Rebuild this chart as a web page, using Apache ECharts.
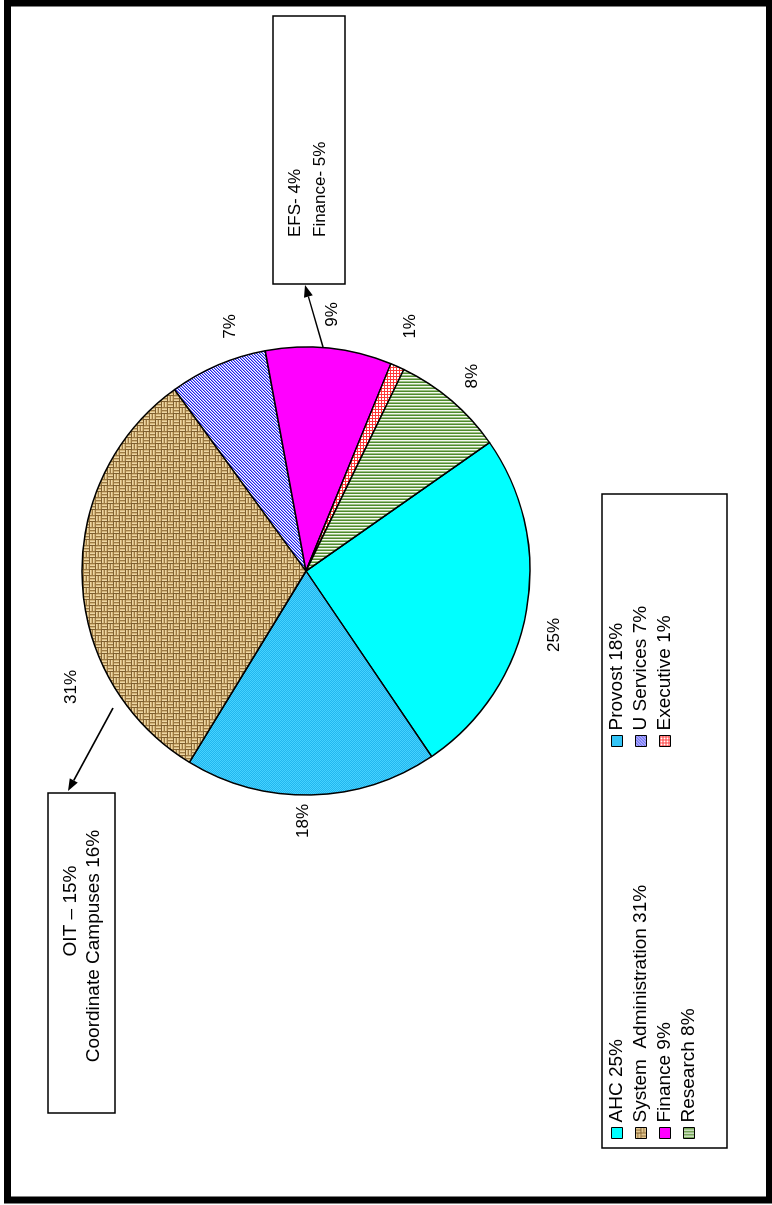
<!DOCTYPE html>
<html>
<head>
<meta charset="utf-8">
<script src="https://cdn.jsdelivr.net/npm/echarts@6/dist/echarts.min.js"></script>
<style>
  html, body { margin: 0; padding: 0; background: #fff; overflow: hidden; width: 772px; height: 1205px; }
  /* the chart is laid out landscape and turned a quarter turn to read bottom-to-top */
  #chart { position: absolute; left: 0; top: 0; width: 1205px; height: 772px;
           transform-origin: 0 0; transform: translate(0px, 1205px) rotate(-90deg); }
</style>
</head>
<body>
<div id="chart"></div>
<script>
// Budget shares by unit (percent)
const categories = ['AHC', 'Provost', 'System  Administration', 'U Services', 'Finance', 'Executive', 'Research'];
const shares = [25, 18, 31, 7, 9, 1, 8];

// Legend columns (row-major reading: AHC | Provost, System Administration | U Services, ...)
const legendCol1 = ['AHC', 'System  Administration', 'Finance', 'Research'];
const legendCol2 = ['Provost', 'U Services', 'Executive'];

// Call-out boxes
const efsLines = ['EFS- 4%', 'Finance- 5%'];
const oitLines = ['OIT \u2013 15%', 'Coordinate Campuses 16%'];

const FONT = '"Liberation Sans", Arial, sans-serif';

// ---- fill textures -------------------------------------------------------
function tile(w, h, paint) {
  const c = document.createElement('canvas');
  c.width = w; c.height = h;
  const g = c.getContext('2d');
  for (let y = 0; y < h; y++) for (let x = 0; x < w; x++) {
    g.fillStyle = paint(x, y);
    g.fillRect(x, y, 1, 1);
  }
  return { image: c, repeat: 'repeat' };
}
// fine dotted sky blue
const provostFill = tile(2, 2, (x, y) => ((x + y) % 2 ? '#22B6EE' : '#45D2FF'));
// woven burlap: alternating blocks of horizontal and vertical threads
const burlapFill = tile(12, 12, (x, y) => {
  const block = (((x / 6) | 0) + ((y / 6) | 0)) & 1;
  const k = block ? x % 3 : y % 3;
  const edge = block ? (y % 6 === 5) : (x % 6 === 5);
  if (edge) return '#7E5E2E';
  if (k === 2) return '#9C7A44';
  return k === 0 ? '#EDD6A4' : '#D4B57A';
});
// blue diagonal hatch
const uServFill = tile(3, 3, (x, y) => ((x + y) % 3 === 0 ? '#2020E8' : ((x + y) % 3 === 1 ? '#9A9AFF' : '#FFFFFF')));
// red small grid
const execFill = tile(3, 3, (x, y) => (x === 0 || y === 0 ? '#FF3A3A' : '#FFFFFF'));
// green stripes (vertical here, horizontal once the page is turned)
const researchFill = tile(3, 1, (x) => (x === 0 ? '#4F8A2E' : (x === 1 ? '#9CC283' : '#F4F8F0')));

const fills = {
  'AHC': '#00FFFF',
  'Provost': provostFill,
  'System  Administration': burlapFill,
  'U Services': uServFill,
  'Finance': '#FF00FF',
  'Executive': execFill,
  'Research': researchFill
};

// ---- pie geometry -----------------------------------------------------------
const CX = 634, CY = 306, R = 224, START = 305;
const labelDist = [256, 250, 262, 256, 258, 266, 256];
const labelNudgeDeg = [-4, -2, 24, -6, 0, 1, 0];

const total = shares.reduce((a, b) => a + b, 0);
const before = shares.map((_, i) => shares.slice(0, i).reduce((a, b) => a + b, 0));

const chart = echarts.init(document.getElementById('chart'), null, { renderer: 'canvas' });

function legendFor(names, left) {
  return {
    orient: 'vertical', left: left, top: 605, padding: 0, itemGap: 0,
    itemWidth: 11, itemHeight: 11, icon: 'rect',
    itemStyle: { borderColor: '#000', borderWidth: 1 },
    selectedMode: false,
    data: names,
    formatter: (n) => n + ' ' + shares[categories.indexOf(n)] + '%',
    textStyle: { fontFamily: FONT, fontSize: 19, color: '#000', lineHeight: 24 }
  };
}

function arrow(x1, y1, x2, y2) {
  const a = Math.atan2(y2 - y1, x2 - x1);
  const L = 12, W = 4.5;
  const bx = x2 - L * Math.cos(a), by = y2 - L * Math.sin(a);
  return [
    { type: 'line', shape: { x1: x1, y1: y1, x2: bx, y2: by }, style: { stroke: '#000', lineWidth: 1.5 } },
    { type: 'polygon', shape: { points: [[x2, y2],
        [bx + W * Math.sin(a), by - W * Math.cos(a)],
        [bx - W * Math.sin(a), by + W * Math.cos(a)]] }, style: { fill: '#000' } }
  ];
}

const option = {
  backgroundColor: '#fff',
  animation: false,
  legend: [legendFor(legendCol1, 66), legendFor(legendCol2, 458)],
  series: [{
    type: 'pie',
    center: [CX, CY],
    radius: R,
    startAngle: START,
    clockwise: true,
    silent: true,
    data: categories.map((n, i) => ({ name: n, value: shares[i], itemStyle: { color: fills[n] } })),
    itemStyle: { borderColor: '#000', borderWidth: 1.5 },
    label: {
      show: true, position: 'outside', formatter: (p) => p.value + '%',
      fontFamily: FONT, fontSize: 17, color: '#000'
    },
    labelLine: { show: false },
    labelLayout: (p) => {
      const i = p.dataIndex;
      const deg = START - (before[i] + shares[i] / 2) / total * 360 + labelNudgeDeg[i];
      const rad = deg * Math.PI / 180;
      return { x: CX + labelDist[i] * Math.cos(rad), y: CY - labelDist[i] * Math.sin(rad),
               align: 'center', verticalAlign: 'middle' };
    },
    emphasis: { disabled: true }
  }],
  graphic: [
    // outer frame
    { type: 'rect', shape: { x: 5, y: 7.5, width: 1197, height: 762 },
      style: { fill: 'none', stroke: '#000', lineWidth: 7 }, z: 10 },
    // legend frame
    { type: 'rect', shape: { x: 57, y: 602, width: 654, height: 125 },
      style: { fill: 'none', stroke: '#000', lineWidth: 1.5 } },
    // EFS call-out
    { type: 'rect', shape: { x: 921, y: 273, width: 268, height: 72 },
      style: { fill: '#fff', stroke: '#000', lineWidth: 1.5 } },
    { type: 'text', style: { text: efsLines.join('\n'), x: 968, y: 308, font: '17px ' + FONT,
      fill: '#000', align: 'left', verticalAlign: 'middle', textAlign: 'left', textVerticalAlign: 'middle', lineHeight: 25 } },
    // OIT call-out
    { type: 'rect', shape: { x: 92, y: 48, width: 320, height: 67 },
      style: { fill: '#fff', stroke: '#000', lineWidth: 1.5 } },
    { type: 'text', style: { text: oitLines[0], x: 294, y: 71, font: '19px ' + FONT,
      fill: '#000', align: 'center', verticalAlign: 'middle', textAlign: 'center', textVerticalAlign: 'middle' } },
    { type: 'text', style: { text: oitLines[1], x: 259, y: 94, font: '19px ' + FONT,
      fill: '#000', align: 'center', verticalAlign: 'middle', textAlign: 'center', textVerticalAlign: 'middle' } },
    // pointers from the pie to the call-outs
    ...arrow(858, 323, 920, 305),
    ...arrow(497, 113, 414, 68)
  ]
};

chart.setOption(option);
</script>
</body>
</html>
